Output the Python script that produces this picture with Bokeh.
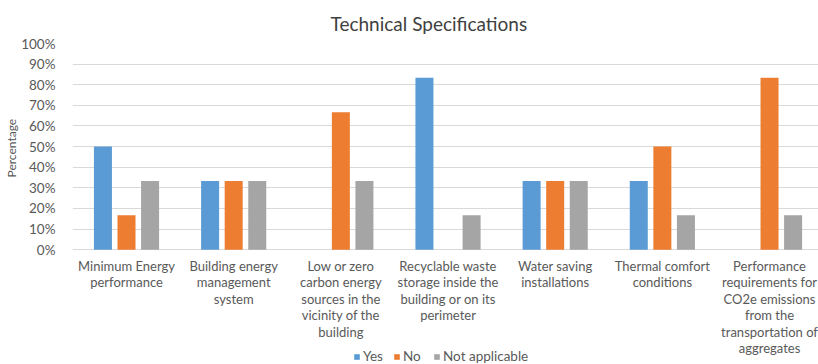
from bokeh.plotting import figure
from bokeh.models import (ColumnDataSource, Range1d, Legend, LegendItem, Title,
                          FixedTicker, CustomJSTickFormatter)
from bokeh.core.properties import value
from bokeh.transform import dodge
from bokeh.embed import file_html
from bokeh.resources import INLINE

# Technical specification items (wrapped as they appear under the bars)
categories = [
    "Minimum Energy\nperformance",
    "Building energy\nmanagement\nsystem",
    "Low or zero\ncarbon energy\nsources in the\nvicinity of the\nbuilding",
    "Recyclable waste\nstorage inside the\nbuilding or on its\nperimeter",
    "Water saving\ninstallations",
    "Thermal comfort\nconditions",
    "Performance\nrequirements for\nCO2e emissions\nfrom the\ntransportation of\naggregates",
]
yes = [50.0, 33.33, 0.0, 83.33, 33.33, 33.33, 0.0]
no = [16.67, 33.33, 66.67, 0.0, 33.33, 50.0, 83.33]
not_applicable = [33.33, 33.33, 33.33, 16.67, 33.33, 16.67, 16.67]
series_names = ["Yes", "No", "Not applicable"]
y_ticks = [0, 10, 20, 30, 40, 50, 60, 70, 80, 90, 100]

colors = ["#5B9BD5", "#ED7D31", "#A5A5A5"]
FONT = "Lato"
TEXT = "#595959"

source = ColumnDataSource(dict(
    pos=list(range(len(categories))), cat=categories,
    yes=yes, no=no, na=not_applicable,
))

# The frame runs to the bottom of the canvas so the wrapped category
# labels and the legend can share the space below the 0% line.
p = figure(
    x_range=Range1d(-0.504, 6.457),
    y_range=Range1d(-55.7, 100),
    width=818, height=364,
    output_backend="svg", toolbar_location=None,
    min_border_left=72, min_border_right=0, min_border_top=43, min_border_bottom=0,
)

p.title.text = "Technical Specifications"
p.title.align = "left"
p.title.offset = 258
p.title.standoff = 17
p.title.text_font = FONT
p.title.text_font_size = "19px"
p.title.text_font_style = "normal"
p.title.text_color = "#404040"

renderers = []
for field, off, col in zip(["yes", "no", "na"], [-0.22, 0.0, 0.22], colors):
    r = p.vbar(x=dodge("pos", off), top=field, bottom=0, width=0.168,
               source=source, fill_color=col, line_color=None)
    renderers.append(r)

# category labels under the 0% line
p.text(x="pos", y=-3.9, text="cat", source=source,
       text_font=value(FONT), text_font_size="13px", text_color=TEXT,
       text_align="center", text_baseline="top", text_line_height=1.03)

legend = Legend(
    items=[LegendItem(label=n, renderers=[r]) for n, r in zip(series_names, renderers)],
    orientation="horizontal", location=(281, 0),
    glyph_width=7, glyph_height=7, label_text_font=FONT, label_text_font_size="13.5px",
    label_text_color=TEXT, border_line_color=None, background_fill_alpha=0,
    spacing=10, label_standoff=3, padding=0, margin=0,
)
p.add_layout(legend, "center")

p.add_layout(Title(text="Percentage", align="left", offset=187, standoff=0,
                   text_font=FONT, text_font_size="12px", text_font_style="normal",
                   text_color=TEXT), "left")

p.yaxis.ticker = FixedTicker(ticks=y_ticks)
p.yaxis.formatter = CustomJSTickFormatter(code="return tick + '%';")
p.yaxis.axis_line_color = None
p.yaxis.major_tick_line_color = None
p.yaxis.minor_tick_line_color = None
p.yaxis.major_label_text_font = FONT
p.yaxis.major_label_text_font_size = "13.5px"
p.yaxis.major_label_text_color = TEXT
p.yaxis.major_label_standoff = 11

p.xaxis.visible = False
p.xgrid.grid_line_color = None
p.ygrid.grid_line_color = "#D9D9D9"
p.outline_line_color = None

open("out.html", "w").write(file_html(p, INLINE))
